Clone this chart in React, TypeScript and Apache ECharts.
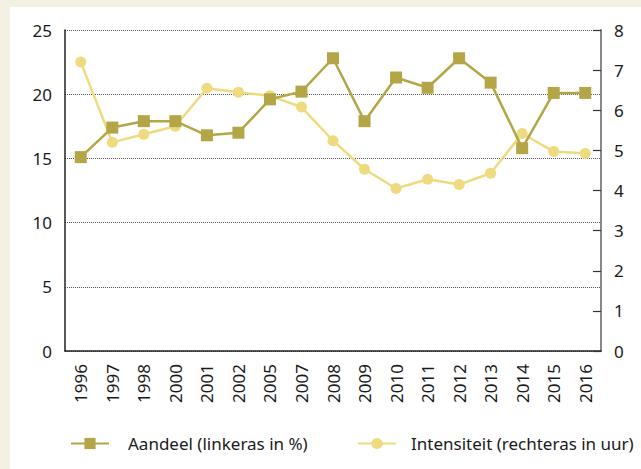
import React, { useEffect, useRef } from "react";
import * as echarts from "echarts";

const categories = ["1996","1997","1998","2000","2001","2002","2005","2007","2008","2009","2010","2011","2012","2013","2014","2015","2016"];
const aandeel = [15.1, 17.4, 17.9, 17.9, 16.8, 17.0, 19.6, 20.2, 22.8, 17.9, 21.3, 20.5, 22.8, 20.9, 15.8, 20.1, 20.1];
const intensiteit = [7.2, 5.2, 5.4, 5.6, 6.55, 6.45, 6.36, 6.08, 5.24, 4.53, 4.05, 4.28, 4.15, 4.43, 5.42, 4.97, 4.92];
const leftTicks = { min: 0, max: 25, interval: 5 };
const rightTicks = { min: 0, max: 8, interval: 1 };

const FONT = "'Noto Sans', sans-serif";
const C1 = "#b4a646";
const C2 = "#eedb80";
const FS = 17;

export default function App() {
  const ref = useRef<HTMLDivElement>(null);
  useEffect(() => {
    const chart = echarts.init(ref.current!, null, { renderer: "svg" });
    chart.setOption({
      animation: false,
      backgroundColor: "#f4f0e3",
      textStyle: { fontFamily: FONT },
      graphic: [
        { type: "rect", shape: { x: 10, y: 7, width: 631, height: 462 }, style: { fill: "#ffffff" }, z: -10 },
      ],
      grid: { left: 65, right: 40, top: 30, bottom: 118 },
      legend: [
        {
          data: [{ name: "Aandeel (linkeras in %)" }],
          left: 65, top: 430, itemWidth: 38, itemHeight: 14,
          textStyle: { fontSize: 17, color: "#1a1a1a", fontFamily: FONT, padding: [0, 0, 0, 14] },
        },
        {
          data: [{ name: "Intensiteit (rechteras in uur)" }],
          left: 352, top: 430, itemWidth: 38, itemHeight: 14,
          textStyle: { fontSize: 17, color: "#1a1a1a", fontFamily: FONT, padding: [0, 0, 0, 10] },
        },
      ],
      xAxis: {
        type: "category",
        data: categories,
        boundaryGap: true,
        axisLine: { lineStyle: { color: "#222", width: 1.5 } },
        axisTick: { inside: true, length: 11, lineStyle: { color: "#777", width: 1.5 } },
        axisLabel: { rotate: 90, fontSize: FS, color: "#1a1a1a", margin: 13, fontFamily: FONT },
      },
      yAxis: [
        {
          type: "value",
          ...leftTicks,
          position: "left",
          axisLine: { show: true, lineStyle: { color: "#222", width: 1.5 } },
          axisTick: { show: false },
          axisLabel: { fontSize: FS, color: "#1a1a1a", margin: 13, fontFamily: FONT },
          splitLine: { show: true, lineStyle: { type: "dotted", color: "#555", width: 1 } },
        },
        {
          type: "value",
          ...rightTicks,
          position: "right",
          axisLine: { show: true, lineStyle: { color: "#888", width: 2 } },
          axisTick: { show: true, inside: true, length: 8, lineStyle: { color: "#333", width: 1.2 } },
          axisLabel: { fontSize: FS, color: "#1a1a1a", margin: 13, fontFamily: FONT },
          splitLine: { show: false },
        },
      ],
      series: [
        {
          name: "Aandeel (linkeras in %)",
          type: "line",
          yAxisIndex: 0,
          data: aandeel,
          symbol: "rect",
          symbolSize: 12,
          lineStyle: { color: C1, width: 2.5 },
          itemStyle: { color: C1 },
          z: 3,
        },
        {
          name: "Intensiteit (rechteras in uur)",
          type: "line",
          yAxisIndex: 1,
          data: intensiteit,
          symbol: "circle",
          symbolSize: 11,
          lineStyle: { color: C2, width: 2.5 },
          itemStyle: { color: C2 },
          z: 2,
        },
      ],
    });
    return () => chart.dispose();
  }, []);
  return <div ref={ref} style={{ position: "fixed", left: 0, top: 0, width: 641, height: 469 }} />;
}
